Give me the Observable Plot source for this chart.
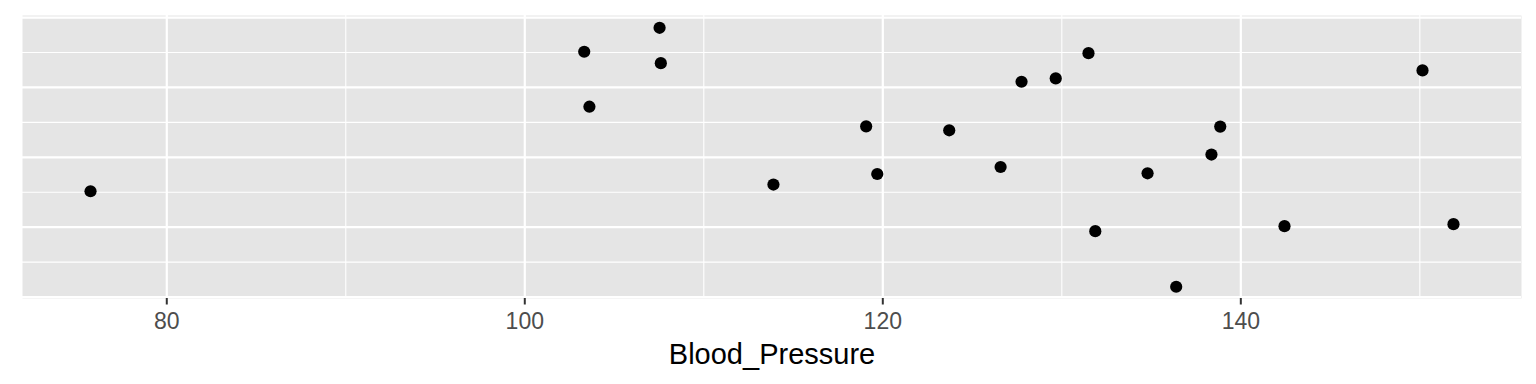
<!DOCTYPE html>
<html>
<head>
<meta charset="utf-8">
<script src="https://cdn.jsdelivr.net/npm/d3@7"></script>
<script src="https://cdn.jsdelivr.net/npm/@observablehq/plot@0.6"></script>
<style>
  html, body { margin: 0; padding: 0; background: #ffffff; }
  #chart svg { display: block; }
</style>
</head>
<body>
<div id="chart"></div>
<script>
// Data
const bloodPressure = [75.74, 103.32, 107.53, 107.60, 103.61, 113.89, 119.07, 119.69, 123.71, 126.58,
                       127.75, 129.66, 131.49, 131.87, 134.79, 136.39, 138.36, 138.85, 142.44, 150.15, 151.88];
const jitterY = [1.514, 3.51, 3.853, 3.347, 2.724, 1.61, 2.443, 1.761, 2.386, 1.861,
                 3.081, 3.129, 3.49, 0.943, 1.771, 0.147, 2.039, 2.439, 1.014, 3.243, 1.043];

const xMajor = [80, 100, 120, 140];
const xMinor = [90, 110, 130, 150];
const yMajor = [0, 1, 2, 3, 4];
const yMinor = [0.5, 1.5, 2.5, 3.5];
const xTitle = "Blood_Pressure";

const data = bloodPressure.map((v, i) => ({Blood_Pressure: v, y: jitterY[i]}));

const fontFamily = "'Liberation Sans', Arial, Helvetica, sans-serif";

const chart = Plot.plot({
  width: 1536,
  height: 384,
  marginLeft: 22,
  marginRight: 15,
  marginTop: 15,
  marginBottom: 86,
  style: {fontFamily, background: "#ffffff"},
  x: {domain: [71.94, 155.68], ticks: xMajor},
  y: {domain: [-0.021, 4.029], axis: null},
  marks: [
    Plot.frame({fill: "#E5E5E5", stroke: null}),
    Plot.ruleX(xMinor, {stroke: "#ffffff", strokeWidth: 1.1}),
    Plot.ruleY(yMinor, {stroke: "#ffffff", strokeWidth: 1.1}),
    Plot.ruleX(xMajor, {stroke: "#ffffff", strokeWidth: 2.2}),
    Plot.ruleY(yMajor, {stroke: "#ffffff", strokeWidth: 2.2}),
    Plot.dot(data, {x: "Blood_Pressure", y: "y", r: 6.1, fill: "#000000", stroke: null}),
    Plot.axisX({
      ticks: xMajor,
      tickSize: 6.5,
      tickPadding: 8,
      strokeWidth: 2,
      stroke: "#333333",
      fill: "#4D4D4D",
      fontSize: 23,
      label: null
    }),
    Plot.text([xTitle], {
      frameAnchor: "bottom",
      text: d => d,
      dy: 56,
      fontSize: 29,
      fill: "#000000",
      textAnchor: "middle",
      lineAnchor: "middle"
    })
  ]
});

document.getElementById("chart").appendChild(chart);
</script>
</body>
</html>
